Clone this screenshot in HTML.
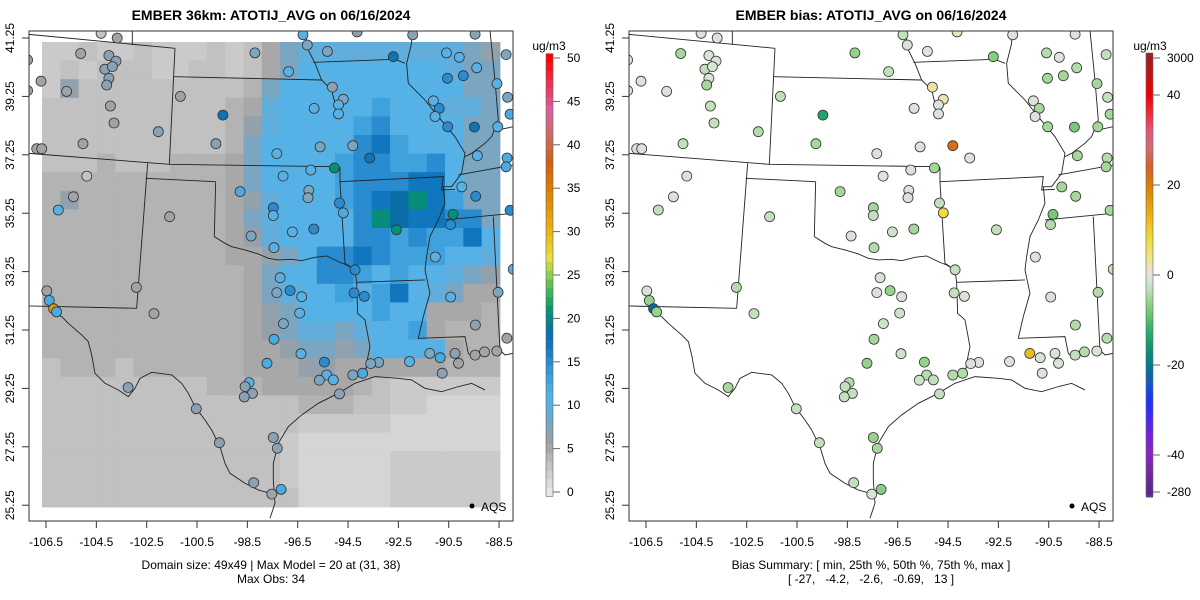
<!DOCTYPE html>
<html><head><meta charset="utf-8"><style>
html,body{margin:0;padding:0;background:#fff;}
svg{display:block;font-family:"Liberation Sans",Arial,sans-serif;}
</style></head><body>
<svg id="chart" width="1200" height="600" viewBox="0 0 1200 600" xmlns="http://www.w3.org/2000/svg">
<rect x="0" y="0" width="1200" height="600" fill="#fff"/>
<text x="271" y="20" text-anchor="middle" font-size="14" font-weight="bold">EMBER 36km: ATOTIJ_AVG on 06/16/2024</text>
<text x="871" y="20" text-anchor="middle" font-size="14" font-weight="bold">EMBER bias: ATOTIJ_AVG on 06/16/2024</text>
<text x="271" y="569" text-anchor="middle" font-size="12">Domain size: 49x49 | Max Model = 20 at (31, 38)</text>
<text x="271" y="583" text-anchor="middle" font-size="12">Max Obs: 34</text>
<text x="871" y="569" text-anchor="middle" font-size="12">Bias Summary: [ min, 25th %, 50th %, 75th %, max ]</text>
<text x="871" y="583" text-anchor="middle" font-size="12" xml:space="preserve">[ -27,   -4.2,   -2.6,   -0.69,   13 ]</text>
<g id="leftPanel"></g>
<g id="rightPanel"></g>
<g id="leftBar"></g>
<g id="rightBar"></g>
</svg>
<script>
// ---------- data ----------
const lonTicks = [-106.5,-104.5,-102.5,-100.5,-98.5,-96.5,-94.5,-92.5,-90.5,-88.5];
const latTicks = [41.25,39.25,37.25,35.25,33.25,31.25,29.25,27.25,25.25];
const leftBarTicks = [0,5,10,15,20,25,30,35,40,45,50];
const rightBarTicks = [-280,-40,-20,0,20,40,3000];
const gridCodeKeys = ["a","b","c","d","e","f","g","h","i","j","k","l","m","n"];
const gridCodeVals = [1.5,2.5,3.2,4.2,5,6.5,8,9.5,11,13,15,17,18.5,20.5];
const gridRows = [
"bbcbbcbbbcbceghhhhhhhhhgf",
"bcbcccbbccbcegiiiiiiiihgg",
"bfcccccccccdgiiiiiiiiiigg",
"ccccccccccdehiiiiijiiihhg",
"ccccccccccdfhiiiijkiiiigg",
"ccccccccccdgiiiiikljiiigg",
"cccdcccdddegiiiijkkjjkigg",
"ddddddddddegiiiijkkklligg",
"dfddddddddefhiiijklmnljgg",
"ddddddddddeghiiiiknmllkkg",
"ddddddddddefhiiiikkjkjjli",
"ddddddddddeefgikklkjjjiih",
"dddddddddddegiikkjijiihgf",
"dddddddddddeghiijijlihgee",
"dddddddddddefgiiiijiieeed",
"dddddddddddefghhghiijeddd",
"dddddddddddeefggfgiiiiedd",
"cdddcddddddeeeffeeeeeeddd",
"cccccccccdddeeeeedcbbbbbb",
"ccccccccccccccdddccbbaaaa",
"ccccccccccccccbbbbbaaaaaa",
"cccccccccccccbaaaaaaaaaaa",
"cccccccccccccbaaaaabbbbbb",
"cccccccccccccbaaaaabbbbbb",
"ccccccccccccccaaaaabbbbbb"
];
const stationLon = [-104.31,-103.67,-105.12,-104.00,-103.72,-104.16,-103.86,-104.00,-104.09,-106.70,-105.68,-103.94,-103.80,-105.03,-102.04,-101.16,-99.47,-99.75,-98.20,-96.86,-96.12,-96.29,-95.32,-94.14,-92.70,-91.93,-90.59,-90.08,-89.45,-88.22,-89.39,-89.92,-90.55,-88.58,-88.16,-88.06,-91.11,-90.88,-91.04,-90.54,-89.48,-88.55,-95.12,-94.69,-95.85,-94.88,-94.88,-97.33,-95.61,-94.31,-93.64,-95.04,-95.98,-97.08,-89.36,-88.18,-88.22,-89.98,-89.43,-88.06,-90.33,-90.43,-92.58,-94.84,-94.69,-96.06,-96.09,-95.86,-96.71,-97.47,-97.47,-98.79,-98.35,-97.44,-91.03,-87.94,-94.22,-97.20,-97.33,-96.80,-96.34,-94.26,-93.85,-90.42,-88.54,-96.42,-97.07,-97.44,-89.44,-88.19,-96.37,-95.44,-97.72,-91.25,-90.84,-90.25,-89.45,-89.08,-88.59,-90.11,-90.76,-92.06,-93.28,-93.60,-93.92,-94.31,-95.35,-95.08,-95.64,-94.84,-98.43,-98.59,-98.30,-98.62,-101.59,-102.21,-102.91,-103.24,-100.53,-99.61,-97.47,-97.31,-98.25,-97.53,-97.16,-104.88,-105.41,-106.01,-106.47,-106.37,-106.20,-106.08,-106.87,-106.67,-107.23,-107.23];
const stationLat = [41.41,41.25,40.72,40.65,40.46,40.18,40.27,39.87,39.64,39.77,39.42,38.92,38.34,37.63,38.04,39.25,38.61,37.63,40.74,40.10,41.01,41.36,40.79,41.46,40.61,41.36,40.74,40.59,41.38,40.68,40.23,39.96,39.87,39.69,39.22,38.64,39.10,38.84,38.56,38.21,38.20,38.21,39.57,39.15,38.84,38.96,38.65,37.29,37.52,37.56,37.14,36.80,36.73,36.52,37.22,37.14,36.84,36.15,35.83,35.35,35.21,34.86,34.68,35.60,35.26,36.03,35.78,34.71,34.61,35.44,35.17,35.99,34.47,34.07,33.75,33.33,33.31,33.04,32.53,32.60,32.39,32.52,32.40,32.38,32.54,31.83,31.47,30.93,31.42,30.97,30.44,30.15,30.11,30.45,30.30,30.45,30.39,30.50,30.53,30.11,29.77,30.17,30.14,30.10,29.77,29.71,29.71,29.54,29.53,29.06,29.45,29.31,29.08,28.96,35.13,31.81,32.71,29.28,28.55,27.39,27.57,27.20,26.02,25.63,25.79,36.52,35.81,35.36,32.59,32.26,31.98,31.87,37.46,37.46,40.50,39.45];
const obsVal = [3,5.5,5.5,7,7,7,7,7,7,5.5,5.5,5.5,5.5,5.5,7,5.5,17.5,7,8,10.5,8,10.5,8,7,17.5,7,10.5,10.5,7,8,10.5,15,15,10.5,8,12,10.5,15,10.5,15,17.5,10.5,7,8,10.5,10.5,10.5,10.5,8,8,17.5,20.5,10.5,10.5,10.5,12,12,10.5,15,15,20.5,15,20.5,15,12,8,8,15,10.5,15,10.5,12,8,10.5,10.5,10.5,15,10.5,8,15,10.5,15,15,10.5,8,10.5,8,12,7,5.5,10.5,15,12,8,12,7,5.5,5.5,5.5,5.5,7,10.5,8,8,12,8,10.5,10.5,8,7,10.5,7,7,7,5.5,5.5,5.5,7,7,7,7,7,7,5.5,12,3,5.5,10.5,5.5,12,33,12,5.5,5.5,5.5,5.5];
const biasVal = [-1,-1,-5,-1,-1,-3,-1,-1,-5,-1,-1,-3,-3,-3,-4,-3,-14,-5,-6,-3,-1,-3,-0.5,2,-7,-0.5,-4,-0.5,-1,-3,-4,-5,-5,-5,-3,-5,-1,-5,-1,-5,-8,-5,3,2,-1,-1,-1,-1,-1,22,-0.5,-5,-1,-0.5,-5,-4,-5,-5,-5,-5,-8,-4,-3,-3,8,-1,-1,-5,-2,-5,-3,-5,-1,-4,-1,-3,-3,-1,-1,-6,-1,-3,-1,-1,-4,-2,-2,-5,-4,-4,-2,-6,-6,12,-1,-1,-3,-4,-1,-1,-1,-1,-1,-1,-4,-4,-4,-3,-2,-3,-4,-3,-3,-3,-3,-3,-4,-5,-3,-3,-6,-5,-3,-1,-7,-1,-1,-3,-1,-6,-22,-6,-1,-1,-1,-1];

// ---------- scales ----------
const NS='http://www.w3.org/2000/svg';
const FRAME={x0:29,y0:31,x1:513,y1:521};
const GRID={x0:42,y0:42,x1:500,y1:507};
function xScale(lon,off){return off+46+(lon+106.5)*25.17;}
function yScale(lat){return 38+(41.25-lat)*29.2;}
function el(tag,attrs,parent){const e=document.createElementNS(NS,tag);for(const k in attrs)e.setAttribute(k,attrs[k]);parent.appendChild(e);return e;}
function hex(c){return [parseInt(c.slice(1,3),16),parseInt(c.slice(3,5),16),parseInt(c.slice(5,7),16)];}
function interp(stops,v){
  if(v<=stops[0][0])return stops[0][1];
  for(let i=1;i<stops.length;i++){if(v<=stops[i][0]){const a=stops[i-1],b=stops[i];const t=(v-a[0])/(b[0]-a[0]);const ca=hex(a[1]),cb=hex(b[1]);return 'rgb('+ca.map((q,j)=>Math.round(q+(cb[j]-q)*t)).join(',')+')';}}
  return stops[stops.length-1][1];
}
const concStops=[[0,'#e6e6e6'],[1,'#dadada'],[2,'#d0d0d0'],[3,'#c4c4c4'],[4,'#b6b6b6'],[5,'#a8a8a8'],[6,'#9a9fa3'],[7,'#8aa2b3'],[8,'#7aa6c2'],[9,'#68abd6'],[10,'#5ab0e2'],[11,'#56b2e6'],[13,'#40a2dc'],[15,'#2a8cd0'],[17,'#1076bd'],[18.5,'#0a6fa6'],[20,'#088682'],[21,'#069670'],[23,'#3cb45a'],[25,'#90cb52'],[27,'#e6e040'],[30,'#eeb410'],[35,'#dc7c00'],[38,'#d45c10'],[41,'#cc6c60'],[44,'#d860a0'],[47,'#f03050'],[50,'#ff0000']];
const biasStops=[[-280,'#5a2a86'],[-40,'#8a24c0'],[-36,'#7a22d8'],[-32,'#4a28f0'],[-28,'#1c32ff'],[-24,'#1258c8'],[-22,'#0a6aa5'],[-20,'#077a8c'],[-16,'#0e9473'],[-14,'#1fa36c'],[-12,'#35b06a'],[-10,'#55bd6c'],[-8,'#78c877'],[-6,'#95d38a'],[-4,'#b3dcaa'],[-2,'#cfe3cc'],[0,'#e3e3e3'],[2,'#ece4b4'],[4,'#eee48a'],[6,'#efe258'],[8,'#f0dc3c'],[12,'#eebc18'],[16,'#e69c08'],[20,'#de7c08'],[24,'#d66020'],[28,'#d06e70'],[32,'#e05878'],[36,'#f42838'],[40,'#f00000'],[3000,'#9b2020']];
const concColor=v=>interp(concStops,v);
const biasColor=v=>interp(biasStops,v);

// ---------- basemap (decorative geography, zoom-space polylines) ----------
const basemap=[
[[0,12],[450,55]],[[322,0],[322,45]],[[450,55],[433,403]],[[445,140],[890,150]],
[[10,370],[433,403],[930,410],[945,412]],[[368,400],[335,835]],[[362,445],[572,455]],[[572,455],[568,620]],
[[568,620],[600,640],[620,650],[660,660],[700,672],[730,685],[760,690],[800,688],[830,692],[870,682],[905,678],[940,695],[965,705],[990,720]],
[[945,455],[1255,440],[1250,480],[1290,478]],[[945,412],[945,455],[960,700],[990,720]],[[990,720],[995,757]],[[995,757],[1200,750]],
[[995,757],[998,850],[1020,870],[1035,950],[1025,1000],[1020,1040]],[[10,828],[335,835]],
[[75,840],[110,860],[130,880],[170,915],[190,935],[200,975],[210,1030],[240,1060],[280,1080],[310,1100],[330,1075],[345,1045],[380,1027],[440,1035],[470,1060],[490,1090],[510,1130],[540,1170],[560,1200],[585,1250],[600,1300],[615,1330],[660,1360],[700,1380],[735,1390],[755,1380]],
[[735,1465],[750,1420],[745,1350],[745,1300],[760,1240],[790,1190],[830,1155],[880,1120],[940,1090],[990,1060],[1050,1040],[1120,1045],[1160,1050],[1200,1075],[1250,1085],[1300,1070],[1340,1060],[1380,1080]],
[[840,0],[850,60],[870,100],[890,150],[920,180],[940,260]],[[865,97],[1110,88],[1140,100]],
[[1160,0],[1160,40],[1145,100],[1150,160],[1200,210],[1240,260],[1290,320],[1320,370],[1310,430],[1280,470],[1255,470],[1260,520],[1240,570],[1215,620],[1205,680],[1200,720],[1215,790],[1195,860],[1180,925],[1320,920],[1330,970],[1350,990]],
[[1395,0],[1410,150],[1420,270],[1400,320],[1380,340],[1340,370],[1320,380]],[[1465,290],[1420,300]],
[[1300,435],[1465,405]],[[1260,570],[1465,550]],[[1405,560],[1425,960],[1440,975],[1465,970]]
];

function drawPanel(g,off,isBias){
  const cid='clip'+off;
  const defs=el('defs',{},g);
  const cp=el('clipPath',{id:cid},defs);
  el('rect',{x:FRAME.x0+off,y:FRAME.y0,width:FRAME.x1-FRAME.x0,height:FRAME.y1-FRAME.y0},cp);
  const inner=el('g',{'clip-path':'url(#'+cid+')'},g);
  if(!isBias){
    const hg=el('g',{},inner);
    
    
    const nr=gridRows.length,nc=gridRows[0].length;
    const cw=(GRID.x1-GRID.x0)/nc,ch=(GRID.y1-GRID.y0)/nr;
    for(let r=0;r<nr;r++)for(let c=0;c<nc;c++){
      const v=gridCodeVals[gridCodeKeys.indexOf(gridRows[r][c])];
      const rc=el('rect',{x:(GRID.x0+off+c*cw).toFixed(2),y:(GRID.y0+r*ch).toFixed(2),width:(cw+0.4).toFixed(2),height:(ch+0.4).toFixed(2),fill:concColor(v)},hg);
      
      
    }
  }
  const bg=el('g',{transform:'translate('+(25+off)+',30) scale(0.3333)'},inner);
  
  
  basemap.forEach(line=>{
    el('polyline',{points:line.map(p=>p.join(',')).join(' '),fill:'none',stroke:'#222','stroke-width':0.9,'vector-effect':'non-scaling-stroke'},bg);
  });
  const sg=el('g',{},inner);
  
  
  for(let i=0;i<stationLon.length;i++){
    const v=isBias?biasVal[i]:obsVal[i];
    const c=el('circle',{cx:xScale(stationLon[i],off).toFixed(1),cy:yScale(stationLat[i]).toFixed(1),r:5,fill:isBias?biasColor(v):concColor(v),stroke:'#333','stroke-width':0.8},sg);
    
    
  }
  const fr=el('rect',{x:FRAME.x0+off,y:FRAME.y0,width:FRAME.x1-FRAME.x0,height:FRAME.y1-FRAME.y0,fill:'none',stroke:'#333','stroke-width':1},g);
  
  
  const xa=el('g',{},g);
  
  
  lonTicks.forEach(t=>{
    const x=xScale(t,off);
    el('line',{x1:x,y1:FRAME.y1,x2:x,y2:FRAME.y1+7,stroke:'#333'},xa);
    const tx=el('text',{x:x,y:FRAME.y1+25,'text-anchor':'middle','font-size':12},xa);
    tx.textContent=t.toFixed(1);
    
    
  });
  const ya=el('g',{},g);
  
  
  latTicks.forEach(t=>{
    const y=yScale(t);
    el('line',{x1:FRAME.x0+off-7,y1:y,x2:FRAME.x0+off,y2:y,stroke:'#333'},ya);
    const tx=el('text',{x:0,y:0,'text-anchor':'middle','font-size':12,transform:'translate('+(off+14)+','+y+') rotate(-90)'},ya);
    tx.textContent=t.toFixed(2);
    
    
  });
  const lg=el('g',{},g);
  
  
  el('circle',{cx:off+472,cy:506,r:2.5,fill:'#000'},lg);
  const lt=el('text',{x:off+481,y:511,'font-size':12},lg);
  lt.textContent='AQS';
}
drawPanel(document.getElementById('leftPanel'),0,false);
drawPanel(document.getElementById('rightPanel'),600,true);

// ---------- colorbars ----------
function lbY(v){return 492-v*8.68;}
(function(){
  const g=document.getElementById('leftBar');
  for(let k=0;k<=50;k++){
    const r=el('rect',{x:546,y:(lbY(k+0.5)).toFixed(2),width:7,height:8.9,fill:concColor(k)},g);
    
    
  }
  el('rect',{x:546,y:lbY(50.5),width:7,height:lbY(-0.5)-lbY(50.5),fill:'none',stroke:'#666','stroke-width':0.6},g);
  leftBarTicks.forEach(t=>{
    el('line',{x1:553,y1:lbY(t),x2:560,y2:lbY(t),stroke:'#666'},g);
    const tx=el('text',{x:567,y:lbY(t)+4,'font-size':12},g);tx.textContent=t;
  });
  const u=el('text',{x:549,y:50,'text-anchor':'middle','font-size':12},g);u.textContent='ug/m3';
  
  
})();
function rbY(v){
  if(v>40)return 95-(v-40)/(3000-40)*37;
  if(v<-40)return 455+(-40-v)/(280-40)*37;
  return 275-v*4.5;
}
function rbVal(y){
  if(y<95)return 40+(95-y)/37*(3000-40);
  if(y>455)return -40-(y-455)/37*(280-40);
  return (275-y)/4.5;
}
(function(){
  const g=document.getElementById('rightBar');
  for(let y=53;y<496;y+=3){
    const r=el('rect',{x:1146,y:y,width:7,height:3.4,fill:biasColor(rbVal(y+1.5))},g);
    
    
  }
  el('rect',{x:1146,y:53,width:7,height:443,fill:'none',stroke:'#666','stroke-width':0.6},g);
  rightBarTicks.forEach(t=>{
    const y=rbY(t);
    el('line',{x1:1153,y1:y,x2:1160,y2:y,stroke:'#666'},g);
    const tx=el('text',{x:1167,y:y+4,'font-size':12},g);tx.textContent=t;
  });
  const u=el('text',{x:1150,y:50,'text-anchor':'middle','font-size':12},g);u.textContent='ug/m3';
  
  
})();
</script>
</body></html>
